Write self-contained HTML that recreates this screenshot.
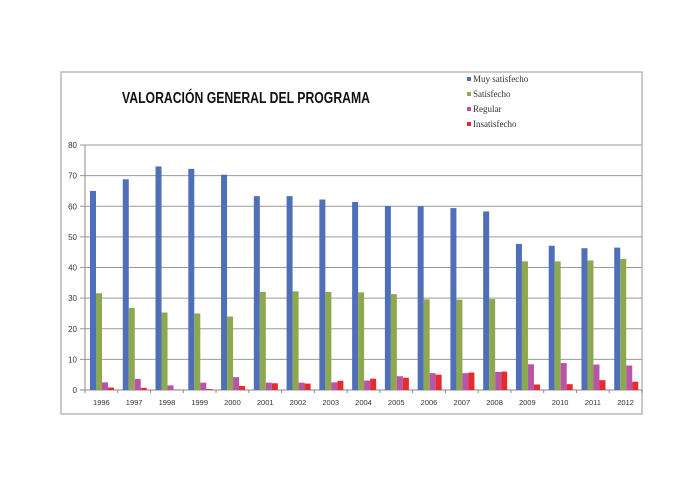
<!DOCTYPE html>
<html><head><style>body{margin:0;background:#fff}svg{display:block}</style></head><body>
<svg width="700" height="495" xmlns="http://www.w3.org/2000/svg">
<rect width="700" height="495" fill="#fff"/>
<rect x="61" y="72" width="581" height="342" fill="#fff" stroke="#b8b8b8" stroke-width="1.5"/>
<text x="122" y="103" textLength="248" lengthAdjust="spacingAndGlyphs" font-family="Liberation Sans, sans-serif" font-weight="bold" font-size="15.5" fill="#111">VALORACIÓN GENERAL DEL PROGRAMA</text>
<g font-family="Liberation Serif, serif" font-size="9" fill="#333">
<rect x="467" y="77" width="4" height="4" fill="#4f6fb8"/><text x="473" y="82">Muy satisfecho</text>
<rect x="467" y="92" width="4" height="4" fill="#8ea850"/><text x="473" y="97">Satisfecho</text>
<rect x="467" y="107" width="4" height="4" fill="#b954a8"/><text x="473" y="112">Regular</text>
<rect x="467" y="122" width="4" height="4" fill="#e52b2b"/><text x="473" y="127">Insatisfecho</text>
</g>
<g id="g"></g>
</svg>
<script>
var s='',y0=390,k=3.0625,x0=85,gw=(642-85)/17;
for(var v=0;v<=80;v+=10){var y=y0-v*k;s+='<line x1="80" x2="642" y1="'+y+'" y2="'+y+'" stroke="'+(v==0?'#888':'#9a9a9a')+'" stroke-width="1"/>';
s+='<text x="77" y="'+(y+3)+'" text-anchor="end" font-family="Liberation Sans,sans-serif" font-size="8" fill="#333">'+v+'</text>';}
s+='<line x1="85" x2="85" y1="145" y2="393" stroke="#888"/>';
var d=[[65,68.8,73,72.2,70.3,63.3,63.3,62.2,61.4,60.1,60,59.4,58.3,47.7,47.1,46.3,46.5],
[31.6,26.8,25.3,25,24,32,32.2,32,31.9,31.3,29.6,29.5,29.7,42,42,42.3,42.8],
[2.5,3.6,1.5,2.4,4.2,2.4,2.4,2.5,3.1,4.5,5.5,5.5,5.9,8.4,8.8,8.3,8],
[0.8,0.7,0.1,0.3,1.3,2.2,2.1,3,3.7,4,5,5.7,6,1.8,1.9,3.2,2.7]];
var c=['#4f6fb8','#8ea850','#b954a8','#e52b2b'];
for(var i=0;i<17;i++){var gx=x0+i*gw;
for(var j=0;j<4;j++){var h=d[j][i]*k;s+='<rect x="'+(gx+5+j*6)+'" y="'+(y0-h)+'" width="6" height="'+h+'" fill="'+c[j]+'"/>';}
s+='<line x1="'+(gx+gw)+'" x2="'+(gx+gw)+'" y1="390" y2="393" stroke="#888"/>';
s+='<text x="'+(gx+gw/2)+'" y="405" text-anchor="middle" font-family="Liberation Sans,sans-serif" font-size="7.5" fill="#333">'+(1996+i)+'</text>';}
document.getElementById('g').innerHTML=s;
</script>
</body></html>
